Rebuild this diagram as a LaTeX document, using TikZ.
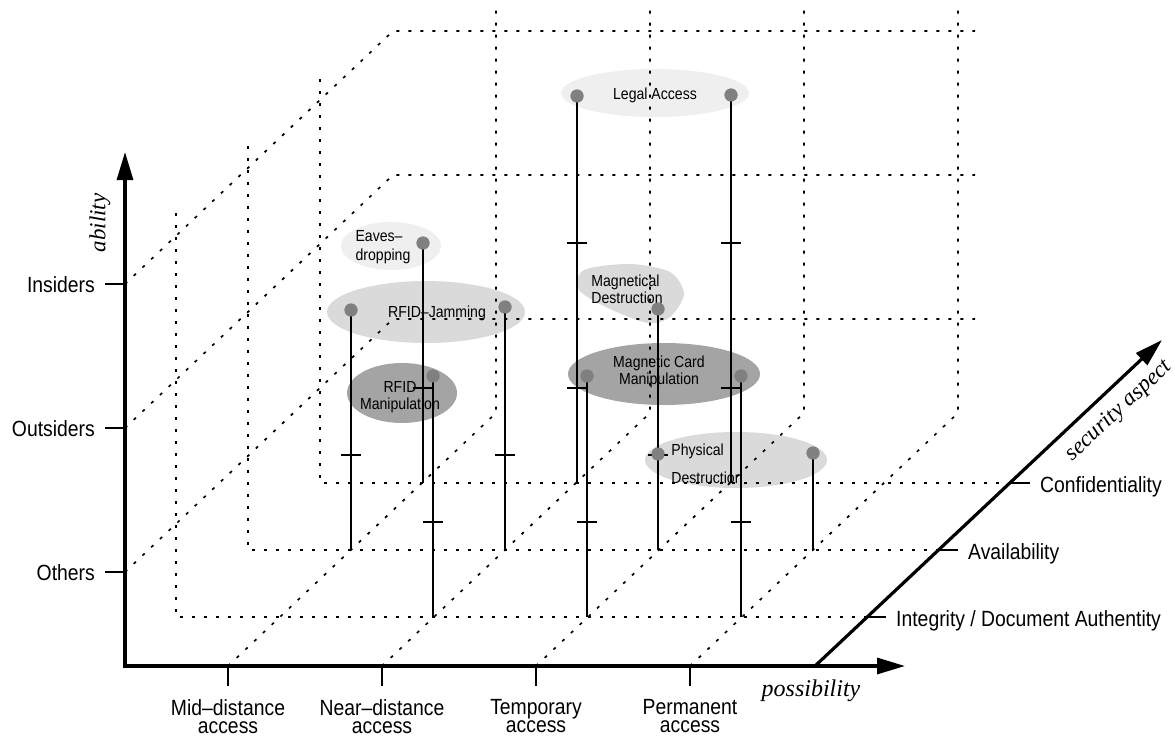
\documentclass[tikz,border=0pt]{standalone}
\usepackage{fontspec}
\setmainfont{Liberation Sans}[FakeStretch=0.88]
\newfontfamily\axisfont{Liberation Serif}
\definecolor{blobpale}{HTML}{EFEFEF}
\definecolor{bloblight}{HTML}{DADADA}
\definecolor{blobdark}{HTML}{A4A4A4}
\definecolor{dotgray}{HTML}{808080}
\usepackage{tikz}
\usetikzlibrary{arrows.meta, positioning, calc}

\begin{document}
\begin{tikzpicture}[
        x=1pt, y=-1pt,
        axisline/.style={line width=3.2pt, -{Triangle[length=28pt, width=16pt]}},
        axistick/.style={line width=1.4pt},
        gridline/.style={line width=1.7pt, dash pattern=on 3pt off 9pt},
        threatstem/.style={line width=1.5pt},
        threatdot/.style={circle, fill=dotgray, inner sep=0pt, minimum size=13pt},
        scalelabel/.style={font=\fontsize{22}{18.5}\selectfont, inner sep=0pt, align=center},
        axistitle/.style={font=\axisfont\itshape\fontsize{23}{25}\selectfont, inner sep=0pt},
        threat/.style={font=\fontsize{16}{17}\selectfont, inner sep=0pt, align=center}
      ]
        \useasboundingbox (0,0) rectangle (1175,737);

        % shaded threat areas
        \fill[blobpale] (655,93) ellipse [x radius=94, y radius=24];
        \fill[blobpale] (391,246) ellipse [x radius=50, y radius=24];
        \fill[bloblight] (426,312) ellipse [x radius=99, y radius=31];
        \fill[bloblight] plot[smooth cycle] coordinates
          {(584,270) (630,264) (670,272) (684,294) (670,317) (648,323) (610,309) (579,290)};
        \fill[bloblight] (736,460) ellipse [x radius=91, y radius=28];
        \fill[blobdark] (402,393) ellipse [x radius=55, y radius=30];
        \fill[blobdark] (664,374) ellipse [x radius=96, y radius=31];

        \node[threat] (legal) at (655,95) {Legal Access};
        \node[threat, align=left, font=\fontsize{16}{19}\selectfont] (eaves) at (383,247) {Eaves--\\dropping};
        \node[threat] (jamming) at (437,313) {RFID--Jamming};
        \node[threat, align=left] (magdestr) at (627,289) {Magnetical\\Destruction};
        \node[threat] (rfidmanip) at (400,397) {RFID\\Manipulation};
        \node[threat] (magcard) at (659,372) {Magnetic Card\\Manipulation};
        \node[threat, align=left] (physical) at (707,464) {Physical\\[11pt]Destruction};

        % back wall and floor
        \foreach \y in {572,428,284}
          \draw[gridline] (125,\y) -- ++(268,-253) -- ({975},{\y-253});
        \foreach \x in {228,382,536,690}
          \draw[gridline] (\x,666) -- ++(268,-253) -- ++(0,-403);
        % one plane per security aspect
        \foreach \px/\py/\zx in {176/617/866, 248/550/938, 320/483/1010}
          \draw[gridline] ({\px},{\py-404}) -- (\px,\py) -- (\zx,\py);

        \draw[axisline] (123.4,666) -- (905,666);
        \draw[axisline] (125,667.6) -- (125,152);
        \draw[axisline] (815,666) -- (1162,340);

        \foreach \y/\lab in {572/Others, 428/Outsiders, 284/Insiders} {
          \draw[axistick] (105,\y) -- (125,\y);
          \node[scalelabel, anchor=base east] (lvl-\lab) at ({95},{\y+8}) {\lab};
        }
        \foreach \x/\lab/\name in {228/{Mid--distance\\access}/mid, 382/{Near--distance\\access}/near,
                                   536/{Temporary\\access}/temp, 690/{Permanent\\access}/perm} {
          \draw[axistick] (\x,666) -- (\x,686);
          \node[scalelabel, anchor=north] (acc-\name) at (\x,699) {\lab};
        }
        \foreach \zx/\zy/\lab/\name in {866/617/{Integrity / Document Authentity}/integ,
                                        938/550/Availability/avail, 1010/483/Confidentiality/conf} {
          \draw[axistick] (\zx,\zy) -- ++(20,0);
          \node[scalelabel, anchor=base west] (sec-\name) at ({\zx+30},{\zy+9}) {\lab};
        }

        \node[axistitle, rotate=90] (ability) at (100,223) {ability};
        \node[axistitle, font=\axisfont\itshape\fontsize{24}{26}\selectfont] (possibility) at (811,691) {possibility};
        \node[axistitle, rotate=43.2] (secaspect) at (1119,411) {security aspect};

        % threat positions
        \node[threatdot] (eaves-a) at (423,243) {};
        \node[threatdot] (legal-a) at (577,96) {};
        \node[threatdot] (legal-b) at (731,95) {};
        \node[threatdot] (jam-a) at (351,310) {};
        \node[threatdot] (jam-b) at (505,307) {};
        \node[threatdot] (magdestr-a) at (658,309) {};
        \node[threatdot] (phys-a) at (658,454) {};
        \node[threatdot] (phys-b) at (813,453) {};
        \node[threatdot] (rfidmanip-a) at (433,376) {};
        \node[threatdot] (magcard-a) at (587,376) {};
        \node[threatdot] (magcard-b) at (741,376) {};

        \coordinate (eaves-f) at (423,483);
        \coordinate (legal-af) at (577,483);
        \coordinate (legal-bf) at (731,483);
        \coordinate (jam-af) at (351,550);
        \coordinate (jam-bf) at (505,550);
        \coordinate (magdestr-f) at (658,550);
        \coordinate (phys-bf) at (813,550);
        \coordinate (rfidmanip-f) at (433,617);
        \coordinate (magcard-af) at (587,617);
        \coordinate (magcard-bf) at (741,617);

        \draw[threatstem] (eaves-f) -- (eaves-a.center);
        \draw[threatstem] (legal-af) -- (legal-a.center);
        \draw[threatstem] (legal-bf) -- (legal-b.center);
        \draw[threatstem] (jam-af) -- (jam-a.center);
        \draw[threatstem] (jam-bf) -- (jam-b.center);
        \draw[threatstem] (magdestr-f) -- (magdestr-a.center);
        \draw[threatstem] (phys-bf) -- (phys-b.center);
        \draw[threatstem] (rfidmanip-f) -- (rfidmanip-a.center);
        \draw[threatstem] (magcard-af) -- (magcard-a.center);
        \draw[threatstem] (magcard-bf) -- (magcard-b.center);

        \foreach \x/\y in {423/388, 577/388, 577/243, 731/388, 731/243,
                           351/455, 505/455, 658/455, 433/522, 587/522, 741/522}
          \draw[axistick] ({\x-10},\y) -- ({\x+10},\y);

        \foreach \d in {eaves-a, legal-a, legal-b, jam-a, jam-b, magdestr-a,
                        phys-a, phys-b, rfidmanip-a, magcard-a, magcard-b}
          \fill[dotgray] (\d) circle [radius=6.5];
      \end{tikzpicture}
\end{document}
